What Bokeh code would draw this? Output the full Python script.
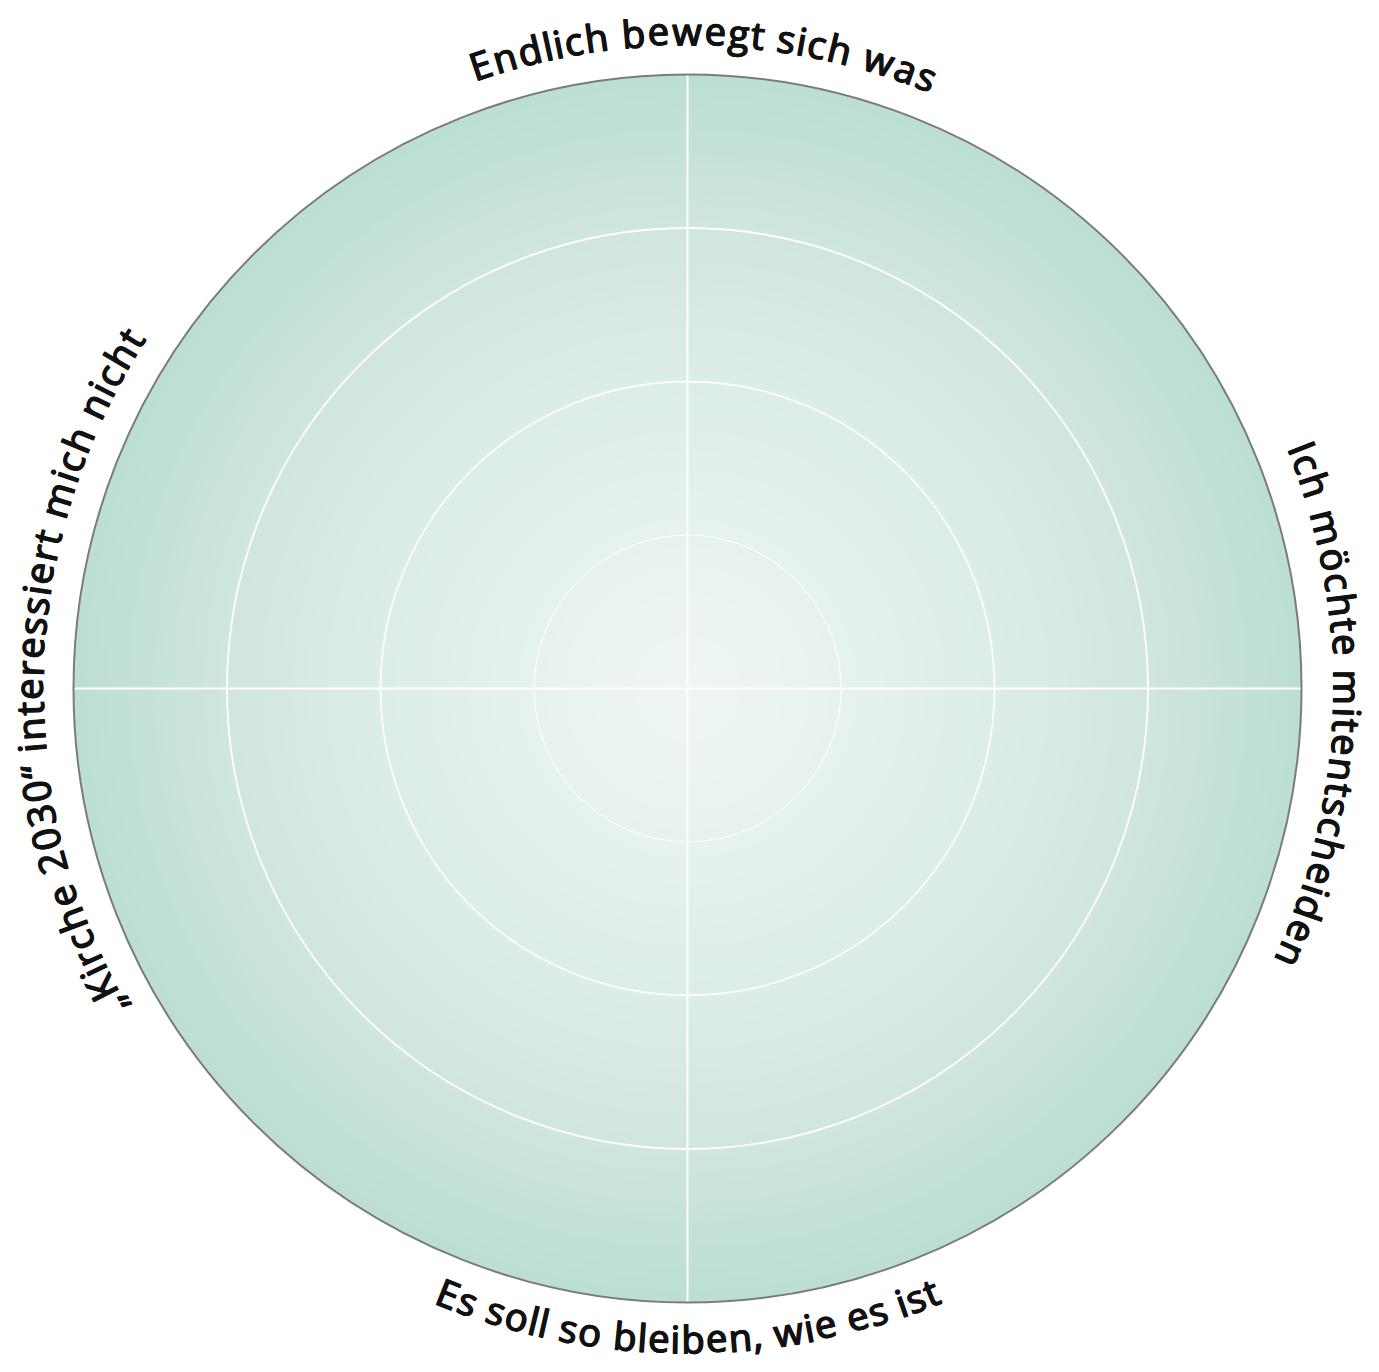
import math
import numpy as np
from bokeh.plotting import figure
from bokeh.models import Range1d, ColumnDataSource
from bokeh.core.properties import value
from bokeh.embed import file_html
from bokeh.resources import INLINE

# ---------------- data ----------------
categories = [
    "Endlich bewegt sich was",
    "Ich möchte mitentscheiden",
    "Es soll so bleiben, wie es ist",
    "„Kirche 2030“ interessiert mich nicht",
]
category_angles_deg = [90, 0, 270, 180]   # direction of each category axis
ring_levels = [1, 2, 3]                     # inner grid circles
max_level = 4                               # outer border

gradient_stops = [0.0, 0.25, 0.5, 0.75, 1.0]
gradient_colors = [(239, 246, 243), (231, 242, 238), (221, 237, 231),
                   (208, 230, 222), (188, 223, 210)]

# ---------------- geometry / style ----------------
PX = 153.5                 # pixels per data unit
W, H = 1379, 1372
CX, CY = 687, 688          # centre in canvas pixels
FONT = value("Open Sans")
FONT_SIZE = "38px"
EM_PX = 41.5               # advance per em used for character placement
ANCHOR_OFF = 18            # rendered baseline lies this far below the anchor
EMBOLDEN_PX = 0.5          # second pass offset to thicken strokes

# Open Sans advance widths (units / 2048)
WIDTHS = {" ": 532, ",": 496, "„": 740, "“": 740, "E": 1147, "I": 571, "K": 1298,
          "a": 1139, "b": 1255, "c": 975, "d": 1255, "e": 1149, "f": 694, "g": 1122,
          "h": 1257, "i": 518, "l": 518, "m": 1905, "n": 1257, "o": 1237, "ö": 1237,
          "r": 836, "s": 977, "t": 723, "u": 1257, "w": 1593, "0": 1171, "2": 1171,
          "3": 1171}

p = figure(width=W, height=H,
           x_range=Range1d(-CX / PX, (W - CX) / PX),
           y_range=Range1d(-(H - CY) / PX, CY / PX),
           output_backend="svg", toolbar_location=None, min_border=0)
p.axis.visible = False
p.grid.visible = False
p.outline_line_color = None
p.background_fill_color = "white"
p.border_fill_color = "white"

# radial gradient made of stacked filled circles
N = 160
radii = np.linspace(max_level, max_level / N, N)
fr = radii / max_level
cols = []
for f in fr:
    rgb = [np.interp(f, gradient_stops, [c[k] for c in gradient_colors]) for k in range(3)]
    cols.append("#%02x%02x%02x" % tuple(int(round(v)) for v in rgb))
p.circle(x=np.zeros(N), y=np.zeros(N), radius=radii, fill_color=cols, line_color=None)

# grid rings
p.circle(x=[0] * len(ring_levels), y=[0] * len(ring_levels), radius=ring_levels,
         fill_color=None, line_color="white", line_width=[1.0, 1.6, 1.8])

# spokes
ang = np.radians(category_angles_deg)
p.segment(x0=np.zeros(len(ang)), y0=np.zeros(len(ang)),
          x1=max_level * np.cos(ang), y1=max_level * np.sin(ang),
          line_color="white", line_width=2)

# outer border
p.circle(x=[0], y=[0], radius=[max_level], fill_color=None,
         line_color="#7b7b7b", line_width=2)

# curved labels
xs, ys, ts, angs, xs2, ys2 = [], [], [], [], [], []
shift = [-1.4, -1.5, 0.0, -1.6]            # small angular offsets (deg)
base_px = [640, 643, 668, 641]             # baseline radius of each label
for label, a_deg, sh, rb in zip(categories, category_angles_deg, shift, base_px):
    c0 = math.radians(a_deg + sh)
    widths = [WIDTHS.get(ch, 1100) / 2048 * EM_PX for ch in label]
    total = sum(widths)
    s = -total / 2
    bottom = (a_deg == 270)
    ra = rb - ANCHOR_OFF if bottom else rb + ANCHOR_OFF
    for ch, w in zip(label, widths):
        mid = s + w / 2
        s += w
        d = mid / rb
        if bottom:
            th = c0 + d
            rot = th + math.pi / 2
        else:
            th = c0 - d
            rot = th - math.pi / 2
        x = ra / PX * math.cos(th)
        y = ra / PX * math.sin(th)
        xs.append(x)
        ys.append(y)
        xs2.append(x + EMBOLDEN_PX / PX * math.cos(rot))
        ys2.append(y + EMBOLDEN_PX / PX * math.sin(rot))
        ts.append(ch)
        angs.append(rot)

for X, Y in ((xs, ys), (xs2, ys2)):
    src = ColumnDataSource(dict(x=X, y=Y, text=ts, angle=angs))
    p.text(x="x", y="y", text="text", angle="angle", source=src,
           text_font=FONT, text_font_size=FONT_SIZE, text_font_style="normal",
           text_color="#111111", text_outline_color="#111111",
           text_align="center", text_baseline="alphabetic")

open("out.html", "w").write(file_html(p, INLINE))
